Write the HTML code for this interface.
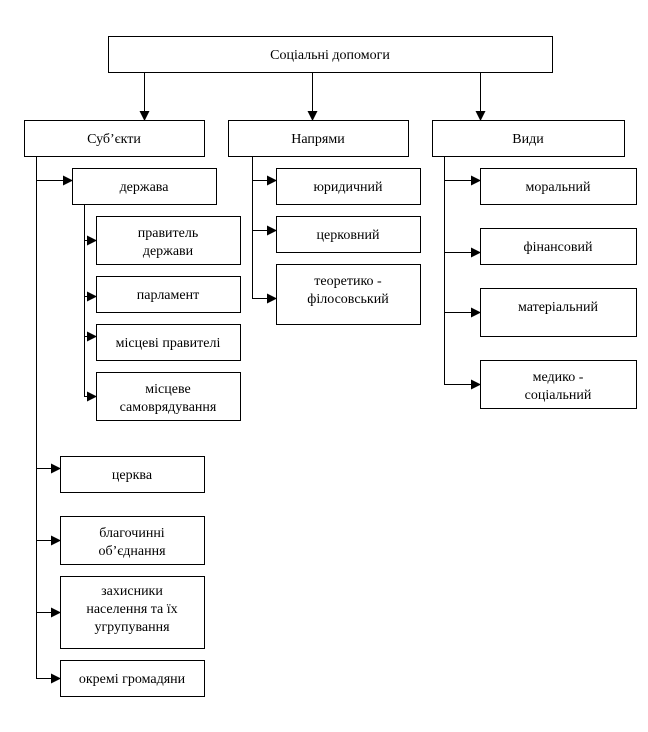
<!DOCTYPE html>
<html><head><meta charset="utf-8"><style>
html,body{margin:0;padding:0;background:#fff;}
svg{display:block;}
text{font-family:"Liberation Serif",serif;font-size:14px;fill:#000;text-anchor:middle;}
</style></head><body>
<svg width="648" height="732" viewBox="0 0 648 732" xmlns="http://www.w3.org/2000/svg">
<defs><marker id="a" markerWidth="10" markerHeight="10" refX="9" refY="5" orient="auto" markerUnits="userSpaceOnUse"><path d="M0,0 L10,5 L0,10 z" fill="#000"/></marker></defs>
<g fill="#fff" stroke="#000" stroke-width="1">
<rect x="108.5" y="36.5" width="444" height="36"/>
<rect x="24.5" y="120.5" width="180" height="36"/>
<rect x="228.5" y="120.5" width="180" height="36"/>
<rect x="432.5" y="120.5" width="192" height="36"/>
<rect x="72.5" y="168.5" width="144" height="36"/>
<rect x="96.5" y="216.5" width="144" height="48"/>
<rect x="96.5" y="276.5" width="144" height="36"/>
<rect x="96.5" y="324.5" width="144" height="36"/>
<rect x="96.5" y="372.5" width="144" height="48"/>
<rect x="60.5" y="456.5" width="144" height="36"/>
<rect x="60.5" y="516.5" width="144" height="48"/>
<rect x="60.5" y="576.5" width="144" height="72"/>
<rect x="60.5" y="660.5" width="144" height="36"/>
<rect x="276.5" y="168.5" width="144" height="36"/>
<rect x="276.5" y="216.5" width="144" height="36"/>
<rect x="276.5" y="264.5" width="144" height="60"/>
<rect x="480.5" y="168.5" width="156" height="36"/>
<rect x="480.5" y="228.5" width="156" height="36"/>
<rect x="480.5" y="288.5" width="156" height="48"/>
<rect x="480.5" y="360.5" width="156" height="48"/>
</g>
<g stroke="#000" stroke-width="1" fill="none">
<path d="M36.5 156V678.5M84.5 204V396.5M252.5 156V298.5M444.5 156V384.5"/>
<g marker-end="url(#a)">
<path d="M144.5 72V120"/><path d="M312.5 72V120"/><path d="M480.5 72V120"/>
<path d="M36 180.5H72"/><path d="M84 240.5H96"/><path d="M84 296.5H96"/><path d="M84 336.5H96"/><path d="M84 396.5H96"/>
<path d="M36 468.5H60"/><path d="M36 540.5H60"/><path d="M36 612.5H60"/><path d="M36 678.5H60"/>
<path d="M252 180.5H276"/><path d="M252 230.5H276"/><path d="M252 298.5H276"/>
<path d="M444 180.5H480"/><path d="M444 252.5H480"/><path d="M444 312.5H480"/><path d="M444 384.5H480"/>
</g>
</g>
<text x="330" y="59">Соціальні допомоги</text>
<text x="114" y="143">Суб’єкти</text>
<text x="318" y="143">Напрями</text>
<text x="528" y="143">Види</text>
<text x="144" y="191">держава</text>
<text x="168" y="237">правитель</text><text x="168" y="255">держави</text>
<text x="168" y="299">парламент</text>
<text x="168" y="347">місцеві правителі</text>
<text x="168" y="393">місцеве</text><text x="168" y="411">самоврядування</text>
<text x="132" y="479">церква</text>
<text x="132" y="537">благочинні</text><text x="132" y="555">об’єднання</text>
<text x="132" y="595">захисники</text><text x="132" y="613">населення та їх</text><text x="132" y="631">угрупування</text>
<text x="132" y="683">окремі громадяни</text>
<text x="348" y="191">юридичний</text>
<text x="348" y="239">церковний</text>
<text x="348" y="285">теоретико -</text><text x="348" y="303">філосовський</text>
<text x="558" y="191">моральний</text>
<text x="558" y="251">фінансовий</text>
<text x="558" y="311">матеріальний</text>
<text x="558" y="381">медико -</text><text x="558" y="399">соціальний</text>
</svg>
</body></html>
